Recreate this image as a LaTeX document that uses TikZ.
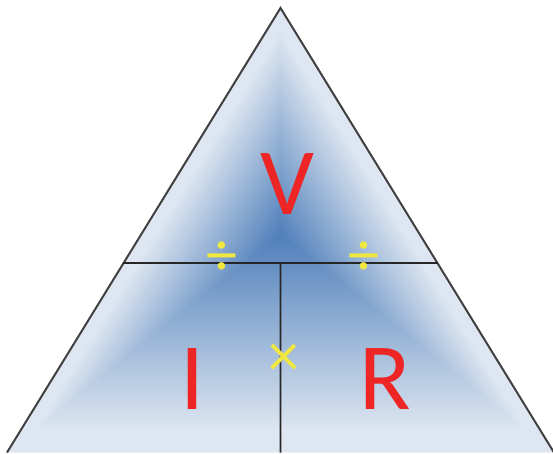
\documentclass[tikz,border=0pt]{standalone}
\usepackage{fontspec}
\setmainfont{Carlito}
\usepackage{xcolor}
\usetikzlibrary{calc}
\definecolor{coreblue}{RGB}{79,127,186}
\definecolor{edgeblue}{RGB}{221,230,241}
\definecolor{lawred}{RGB}{237,37,36}
\definecolor{opyellow}{RGB}{240,232,64}

\begin{document}
\begin{tikzpicture}[
  x=1pt, y=1pt,
  side/.style   = {draw=black!75, line width=2pt, line join=miter},
  split/.style  = {draw=black!85, line width=1.8pt},
  letter/.style = {text=lawred, font=\fontsize{95}{95}\selectfont,
                   inner sep=0pt, anchor=base},
  oper/.style   = {text=opyellow, font=\fontsize{62}{62}\selectfont,
                   inner sep=0pt}
]
\useasboundingbox (0,0) rectangle (553,453);

%%%%%%%%%%%%%%%%%%%%%%% TRIANGLE %%%%%%%%%%%%%%%%%%%%%%%%%%%%%%%%%
\coordinate (apex) at (280.5,445);
\coordinate (bl)   at (7,0.5);
\coordinate (br)   at (554,0.5);
\coordinate (ctr)  at (280.5,218);

% path gradient: nested copies shrinking towards the centre
\foreach \i in {90,89,...,1}{
  \pgfmathsetmacro\t{\i/90}
  \pgfmathsetmacro\p{min(100,100*\t/0.9)}
  \fill[edgeblue!\p!coreblue]
    ($(ctr)!\t!(bl)$) -- ($(ctr)!\t!(apex)$) -- ($(ctr)!\t!(br)$) -- cycle;
}
\draw[side] (bl) -- (apex) -- (br);

%%%%%%%%%%%%%%%%%%%%%%% SPLIT LINES %%%%%%%%%%%%%%%%%%%%%%%%%%%%%%
\coordinate (ml) at ($(bl)!0.4257!(apex)$);
\coordinate (mr) at ($(br)!0.4257!(apex)$);
\coordinate (mt) at ($(ml)!0.5!(mr)$);
\coordinate (mb) at ($(bl)!0.5!(br)$);
\draw[split] (ml) -- (mr);
\draw[split] (mt) -- (mb);

%%%%%%%%%%%%%%%%%%%%%%% LABELS %%%%%%%%%%%%%%%%%%%%%%%%%%%%%%%%%%%
\node[letter] (volt) at (287.5,239) {V};
\node[letter] (amp)  at (192.5,44)  {I};
\node[letter] (ohm)  at (385.5,44)  {R};

\node[oper] (divl) at (222,194) {÷};
\node[oper] (divr) at (364,194) {÷};
\node[oper] (mult) at (284,93)  {×};
\end{tikzpicture}
\end{document}
